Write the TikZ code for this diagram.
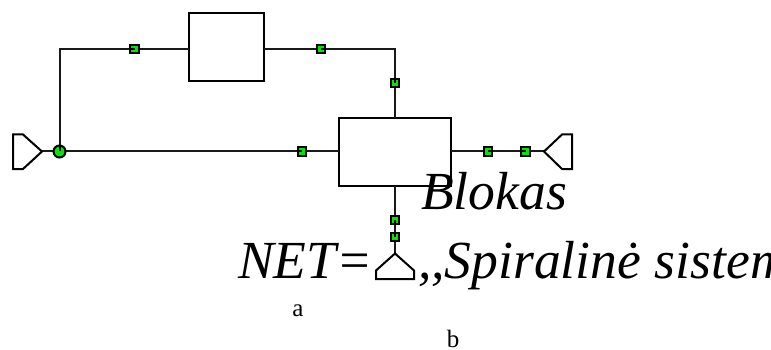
\documentclass[tikz,border=0pt]{standalone}
\usepackage{fontspec}
\setmainfont{Liberation Serif}
\definecolor{markergreen}{RGB}{0,232,0}
\tikzset{
  wire/.style={line width=2pt,draw=black!90},
  blockbox/.style={draw=black,line width=2pt,fill=white,rectangle,inner sep=0pt,outer sep=0pt},
  marker/.style={draw=black,line width=2pt,fill=markergreen,rectangle,minimum size=8.2pt,inner sep=0pt,outer sep=0pt},
  junction/.style={draw=black,line width=2pt,fill=markergreen,circle,minimum size=12pt,inner sep=0pt,outer sep=0pt},
  port/.style={draw=black,line width=2pt,line join=miter},
  bigtext/.style={inner sep=0pt,outer sep=0pt,anchor=base west,font=\fontsize{53.6}{53.6}\selectfont\itshape},
  smalltext/.style={inner sep=0pt,outer sep=0pt,anchor=base,font=\fontsize{25}{25}\selectfont}
}
\begin{document}
\begin{tikzpicture}[x=1pt,y=-1pt]
\useasboundingbox (0,0) rectangle (771,350);
% blocks
\node[blockbox,minimum width=75pt,minimum height=68pt] (top) at (226.7,47) {};
\node[blockbox,minimum width=112pt,minimum height=68pt] (main) at (395,151.7) {};
% ports as coordinates
\coordinate (pl) at (42,151.5);
\coordinate (pr) at (544,151.5);
\coordinate (pb) at (395,253.5);
\coordinate (j) at (59.5,151.5);
\coordinate (c1) at (59.5,49);
\coordinate (c2) at (395,49);
% wires
\draw[wire] (pl) -- (main.west |- pl);
\draw[wire] (j) -- (c1) -- (top.west |- c1);
\draw[wire] (top.east |- c2) -- (c2) -- (main.north);
\draw[wire] (main.east |- pr) -- (pr);
\draw[wire] (main.south) -- (pb);
% markers
\node[marker] (m1) at (134.5,49) {};
\node[marker] (m2) at (320.7,49) {};
\node[marker] (m3) at (395,83.3) {};
\node[marker] (m4) at (302,151.5) {};
\node[marker] (m5) at (488.2,151.5) {};
\node[marker] (m6) at (525.5,151.5) {};
\node[marker] (m7) at (395,219.7) {};
\node[marker] (m8) at (395,236.7) {};
\node[junction] (jn) at (j) {};
% short wire stubs entering the markers
\draw[line width=2pt] (jn.center) -- (jn.north);
\draw[line width=2pt] (m1.west) -- (m1.center) (m2.east) -- (m2.center) (m3.north) -- (m3.center) (m4.west) -- (m4.center) (m5.east) -- (m5.center) (m6.west) -- (m6.center) (m7.south) -- (m7.center) (m8.north) -- (m8.center);
% ports
\draw[port] (pl) -- (23,134.5) -- (13,134.5) -- (13,169) -- (23,169) -- cycle;
\draw[port] (pr) -- (562,134.5) -- (572,134.5) -- (572,169) -- (562,169) -- cycle;
\draw[port] (pb) -- (376,270.5) -- (376,279) -- (414,279) -- (414,270.5) -- cycle;
% texts
\node[bigtext] (t1) at (421,209) {Blokas};
\node[bigtext] (t2) at (238,278) {NET=};
\node[bigtext] (t3) at (418,278) {,\kern0pt,Spiralinė sistem};
\node[smalltext] (a) at (298,316) {a};
\node[smalltext] (b) at (453,347) {b};
\end{tikzpicture}
\end{document}
